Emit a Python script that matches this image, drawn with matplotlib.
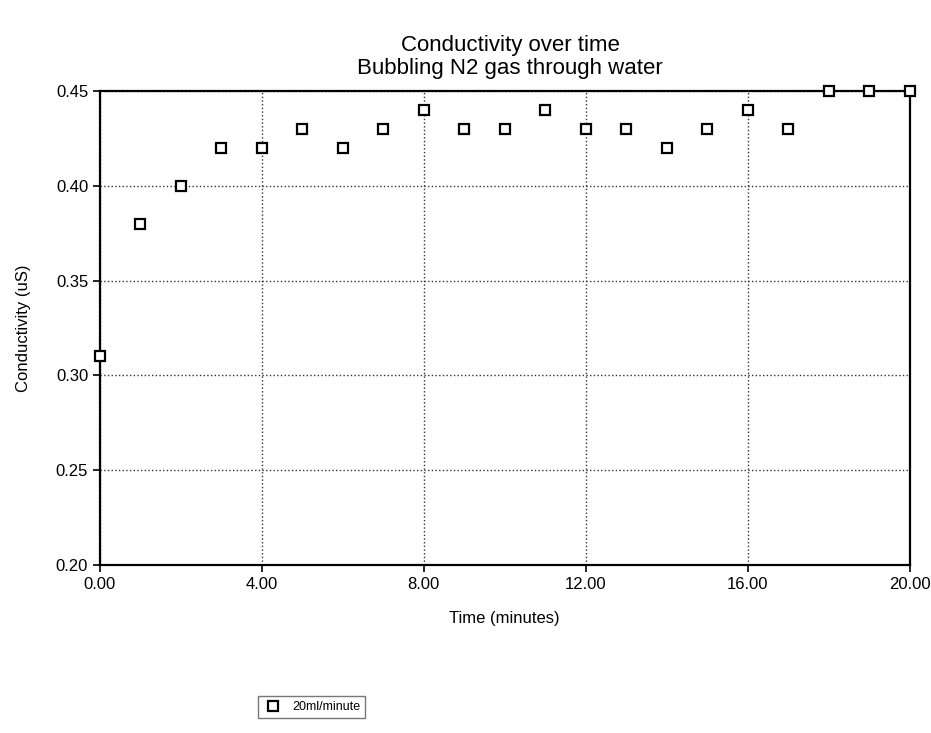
import matplotlib
matplotlib.use("Agg")
import matplotlib.pyplot as plt
from matplotlib.ticker import FormatStrFormatter

plt.rcParams['font.family'] = ['Liberation Sans', 'DejaVu Sans']

time_min = [0, 1, 2, 3, 4, 5, 6, 7, 8, 9, 10, 11, 12, 13, 14, 15, 16, 17, 18, 19, 20]
conductivity = [0.31, 0.38, 0.40, 0.42, 0.42, 0.43, 0.42, 0.43, 0.44, 0.43, 0.43,
                0.44, 0.43, 0.43, 0.42, 0.43, 0.44, 0.43, 0.45, 0.45, 0.45]
x_ticks = [0, 4, 8, 12, 16, 20]
y_ticks = [0.20, 0.25, 0.30, 0.35, 0.40, 0.45]
series_label = "20ml/minute"

fig = plt.figure(figsize=(9.31, 7.33), dpi=100)
ax = fig.add_axes([0.1074, 0.229, 0.8696, 0.647])

ax.plot(time_min, conductivity, linestyle='none', marker='s', markersize=7,
        markerfacecolor='white', markeredgecolor='black', markeredgewidth=1.6,
        label=series_label, clip_on=False, zorder=5)

ax.set_xlim(0, 20)
ax.set_ylim(0.20, 0.45)
ax.set_xticks(x_ticks)
ax.set_yticks(y_ticks)
ax.xaxis.set_major_formatter(FormatStrFormatter('%.2f'))
ax.yaxis.set_major_formatter(FormatStrFormatter('%.2f'))
ax.tick_params(axis='both', direction='out', length=5, width=1.2, labelsize=12, colors='black')

ax.grid(True, linestyle=':', color='#333333', linewidth=1.0)
for s in ax.spines.values():
    s.set_linewidth(1.6)
    s.set_color('black')

ax.set_xlabel("Time (minutes)", fontsize=12, labelpad=14)
ax.set_ylabel("Conductivity (uS)", fontsize=12, labelpad=18)
fig.text(0.548, 0.922, "Conductivity over time\nBubbling N2 gas through water",
         ha='center', va='center', fontsize=16, linespacing=1.15)

fig.legend(loc='center', bbox_to_anchor=(0.335, 0.035), fontsize=9, frameon=True,
           fancybox=False, edgecolor='#555555', handlelength=1.5)

fig.savefig("out.png", dpi=100)
